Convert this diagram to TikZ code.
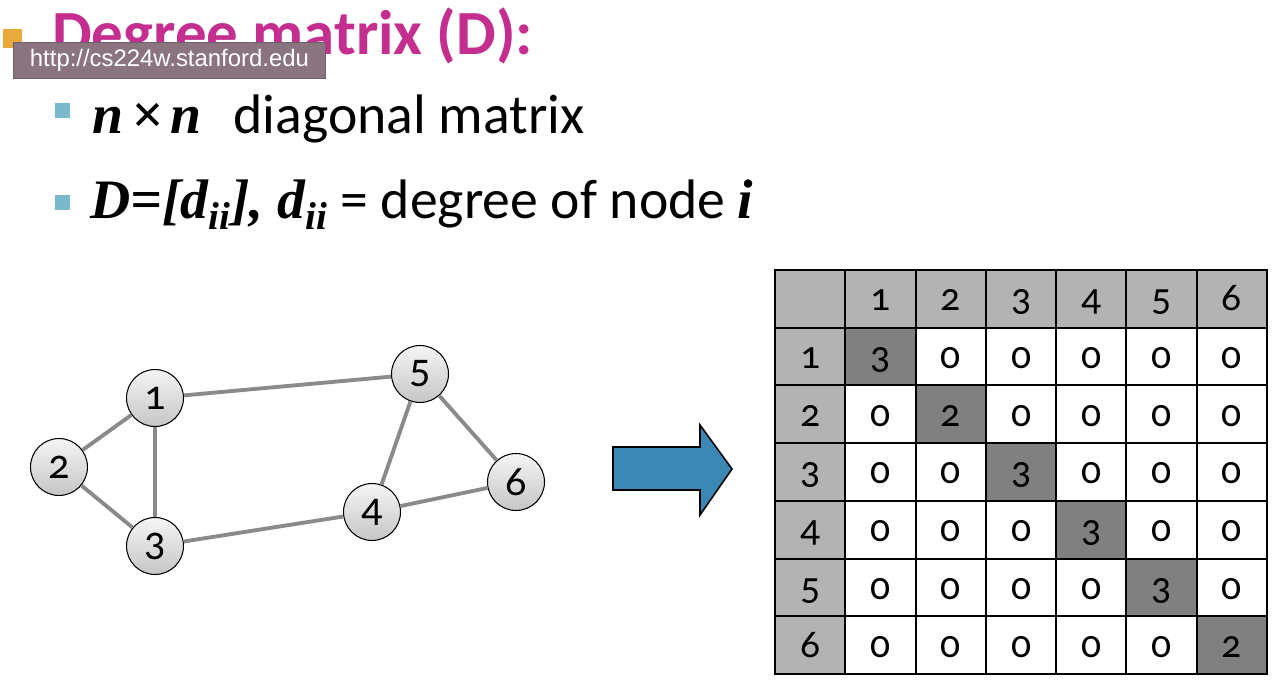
\documentclass[tikz,border=0pt]{standalone}
\usepackage{fontspec}
\setmainfont{Carlito}
\newfontfamily\timesfont{Liberation Serif}
\newfontfamily\numfont[Numbers=OldStyle]{Carlito}
\newfontfamily\tipfont{Liberation Sans}
\usetikzlibrary{positioning}
\definecolor{titlemagenta}{HTML}{C42E8F}
\definecolor{bulletorange}{HTML}{E8AA3A}
\definecolor{bulletcyan}{HTML}{7AB8CC}
\definecolor{tipmauve}{HTML}{8A7480}
\definecolor{tipedge}{HTML}{6E6068}
\definecolor{edgegray}{HTML}{8A8A8A}
\definecolor{arrowblue}{HTML}{3C88B5}
\definecolor{headgray}{HTML}{B3B3B3}
\definecolor{diaggray}{HTML}{808080}

\begin{document}
\begin{tikzpicture}[x=0.02cm, y=-0.02cm,
	vertex/.style={circle, draw=black, line width=0.6pt, minimum size=1.14cm, inner sep=0pt,
		top color=gray!8, bottom color=gray!45, font=\numfont\fontsize{24}{24}\selectfont},
	edge/.style={draw=edgegray, line width=2.2pt},
	cell/.style={rectangle, draw=black, line width=1.1pt, minimum width=1.406cm, minimum height=1.154cm,
		inner sep=0pt, text height=14pt, text depth=0.4pt, font=\numfont\fontsize{22.5}{22.5}\selectfont},
	bullet/.style={inner sep=0pt, minimum size=0.3cm}]
	\useasboundingbox (0,0) rectangle (1286,686);

	% heading and bullets
	\node[bullet, fill=bulletorange, minimum size=0.38cm, anchor=north west] (sqtitle) at (3,29) {};
	\node[anchor=base west, inner sep=0pt, text=titlemagenta, font=\bfseries\fontsize{35.8}{36}\selectfont] (title) at (52,55) {Degree matrix (D):};
	\node[anchor=north west, fill=tipmauve, draw=tipedge, line width=0.5pt, minimum width=6.24cm, minimum height=0.72cm,
		inner sep=0pt, text=white, font=\tipfont\fontsize{13.6}{14}\selectfont] (tip) at (13,42) {http://cs224w.stanford.edu};

	\node[bullet, fill=bulletcyan, anchor=north west] (sqone) at (55,103) {};
	\node[anchor=base west, inner sep=0pt, font=\fontsize{31.7}{32}\selectfont] (lineone) at (92,133)
		{{\timesfont\bfseries\itshape n\kern0.14em×\kern0.14em n}\hspace{0.35em} diagonal matrix};
	\node[bullet, fill=bulletcyan, anchor=north west] (sqtwo) at (55,195) {};
	\node[anchor=base west, inner sep=0pt, font=\fontsize{31.7}{32}\selectfont] (linetwo) at (90,218)
		{{\timesfont\bfseries\itshape D=[d\textsubscript{ii}], d\textsubscript{ii}} = degree of node {\timesfont\bfseries\itshape i}};

	% graph
	\node[vertex] (n1) at (155,398) {1};
	\node[vertex] (n2) at (59,467) {2};
	\node[vertex] (n3) at (155,546) {3};
	\node[vertex] (n4) at (372,512) {4};
	\node[vertex] (n5) at (420,374) {5};
	\node[vertex] (n6) at (516,482) {6};
	\foreach \a/\b in {1/2, 1/3, 2/3, 1/5, 3/4, 4/5, 5/6, 4/6}
		\draw[edge] (n\a) -- (n\b);

	% arrow
	\draw[fill=arrowblue, line width=0.9pt, line join=miter]
		(613,447) -- (700,447) -- (700,425) -- (732,469) -- (700,515) -- (700,490) -- (613,490) -- cycle;

	% degree matrix
	\foreach \r in {0,...,6}{
		\foreach \c in {0,...,6}{
			\ifnum\r=0
				\def\cellfill{headgray}\def\celltext{\c}
				\ifnum\c=0 \def\celltext{}\fi
			\else\ifnum\c=0
				\def\cellfill{headgray}\def\celltext{\r}
			\else\ifnum\r=\c
				\def\cellfill{diaggray}\pgfmathtruncatemacro\celltext{{3,2,3,3,3,2}[\r-1]}
			\else
				\def\cellfill{white}\def\celltext{0}
			\fi\fi\fi
			\node[cell, fill=\cellfill] (m-\r-\c) at ({775+(\c+0.5)*70.29},{270+(\r+0.5)*57.71}) {\celltext};
		}
	}
\end{tikzpicture}
\end{document}
